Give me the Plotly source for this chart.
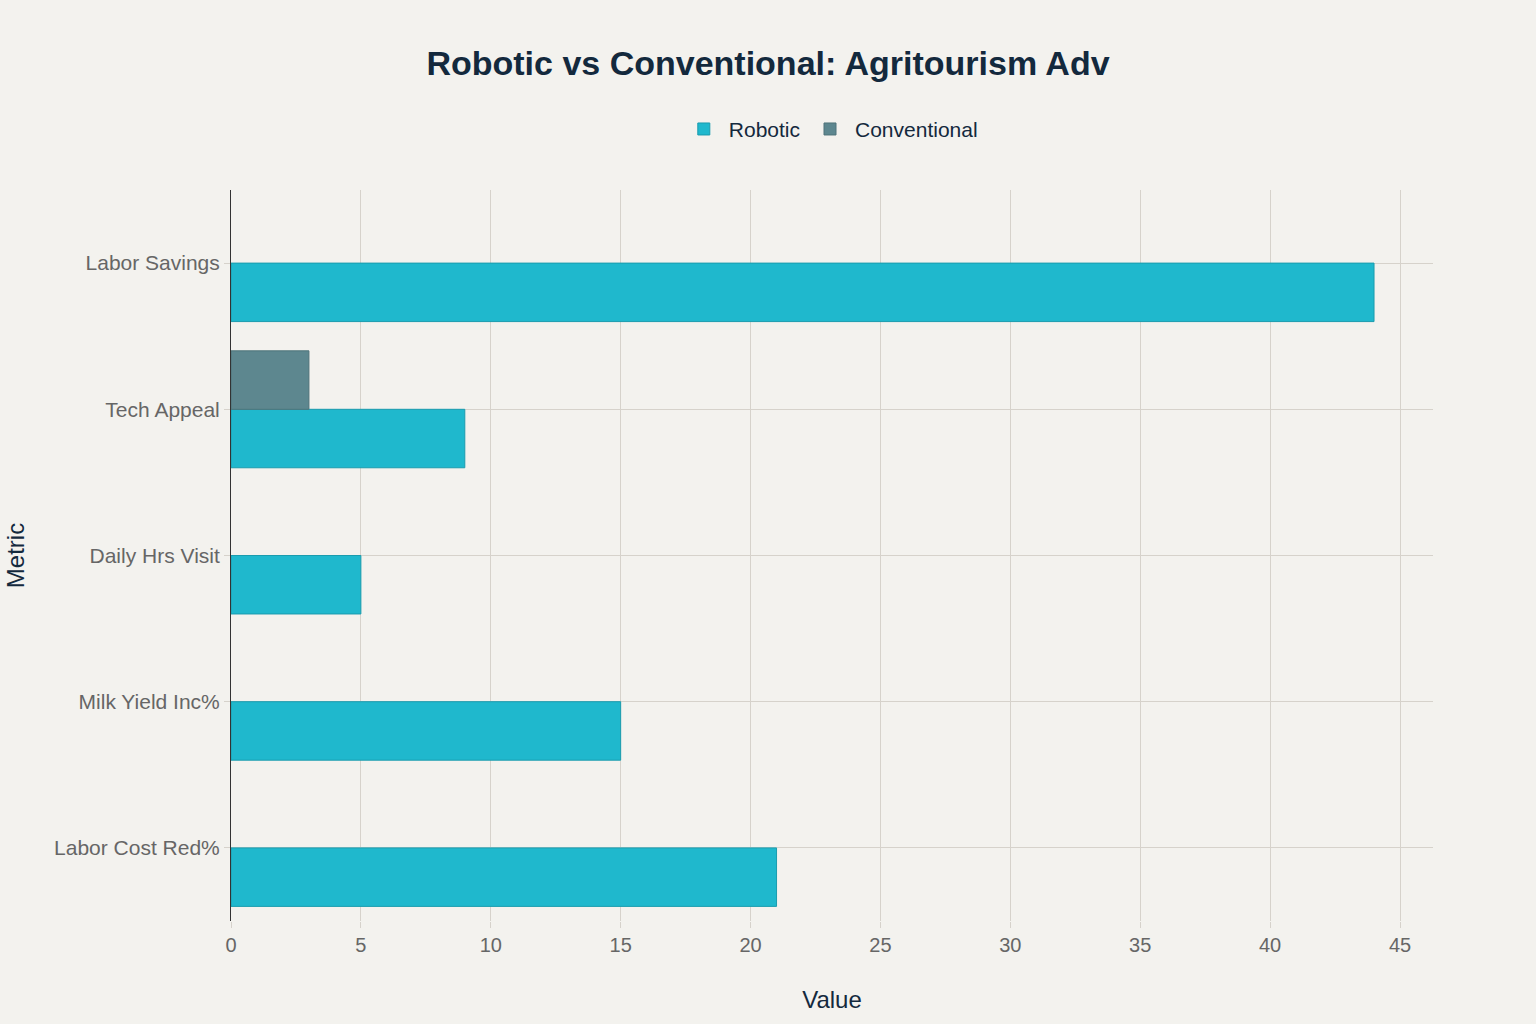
import plotly.graph_objects as go

metrics = ["Labor Cost Red%", "Milk Yield Inc%", "Daily Hrs Visit", "Tech Appeal", "Labor Savings"]
robotic = [21, 15, 5, 9, 44]
conventional = [None, None, None, 3, None]

fig = go.Figure()
fig.add_trace(go.Bar(y=metrics, x=robotic, name="Robotic", orientation="h",
                     marker=dict(color="#1FB8CD", line=dict(color="#1A9CAE", width=1))))
fig.add_trace(go.Bar(y=metrics, x=conventional, name="Conventional", orientation="h",
                     marker=dict(color="#5D878F", line=dict(color="#4F737A", width=1))))

fig.update_layout(
    width=1536, height=1024,
    paper_bgcolor="#F3F2EE", plot_bgcolor="#F3F2EE",
    barmode="group", bargap=0.2,
    margin=dict(l=231, r=103, t=190, b=103),
    title=dict(text="<b>Robotic vs Conventional: Agritourism Adv</b>", x=0.5, xanchor="center",
               y=0.938, yanchor="middle",
               font=dict(family="Liberation Sans, Arial", size=34, color="#13293D")),
    legend=dict(orientation="h", x=0.499, xanchor="center", y=1.083, yanchor="middle",
                font=dict(family="Liberation Sans, Arial", size=21, color="#13293D"),
                traceorder="normal", bgcolor="rgba(0,0,0,0)", itemwidth=40),
    font=dict(family="Liberation Sans, Arial", color="#666666"),
)
fig.update_xaxes(
    title=dict(text="Value", font=dict(size=24, color="#13293D"), standoff=36),
    range=[0, 46.27], dtick=5, tickfont=dict(size=20, color="#666666"),
    showgrid=True, gridcolor="#D6D2CB", gridwidth=1, zeroline=False,
    ticks="outside", tickcolor="#D6D2CB", ticklen=6,
)
fig.update_yaxes(
    title=dict(text="Metric", font=dict(size=24, color="#13293D"), standoff=22),
    tickfont=dict(size=21, color="#666666"),
    showgrid=True, gridcolor="#D6D2CB", gridwidth=1,
    showline=True, linecolor="#333333", linewidth=1,
    ticks="outside", tickcolor="#D6D2CB", ticklen=6,
)

fig.write_html("out.html", config={"displayModeBar": False},
               post_script="document.body.style.margin='0';")
